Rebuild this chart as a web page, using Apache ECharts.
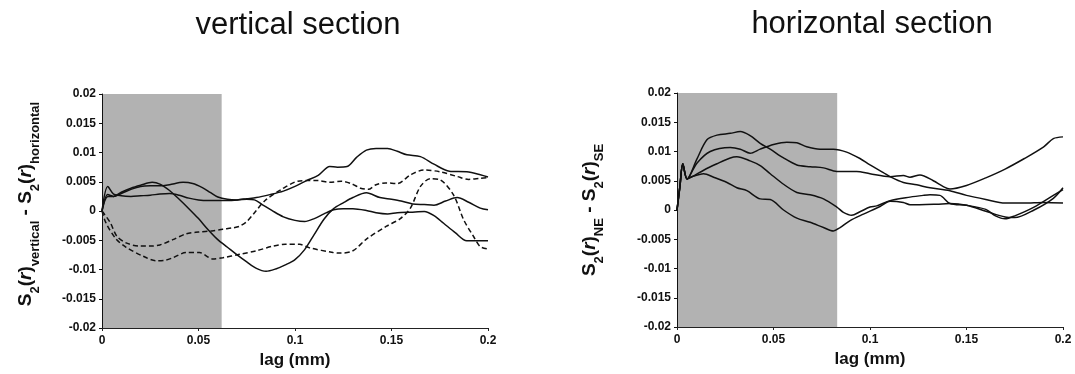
<!DOCTYPE html>
<html>
<head>
<meta charset="utf-8">
<script src="https://cdn.jsdelivr.net/npm/echarts@6/dist/echarts.min.js"></script>
<style>
html,body{margin:0;padding:0;background:#fff;}
#c{width:1075px;height:374px;}
</style>
</head>
<body>
<div id="c"></div>
<script>
// ---- Titles ----
const titleLeft = 'vertical section';
const titleRight = 'horizontal section';
const xName = 'lag (mm)';

// ---- Shaded lag ranges ----
const shadeLeftEnd = 0.062;
const shadeRightEnd = 0.083;

// ---- Left panel (vertical section): [lag, S2 diff] ----
const leftSolidA = [[0,0],[0.003,0.0042],[0.006,0.0029],[0.01,0.0026],[0.015,0.0025],[0.02,0.0026],[0.025,0.0027],[0.03,0.0029],[0.035,0.003],[0.04,0.0027],[0.045,0.0022],[0.05,0.0019],[0.055,0.0018],[0.06,0.0018],[0.065,0.0018],[0.07,0.0019],[0.075,0.0021],[0.08,0.0023],[0.087,0.0028],[0.094,0.0034],[0.1,0.0042],[0.106,0.0052],[0.112,0.0061],[0.118,0.0076],[0.122,0.0075],[0.127,0.0076],[0.132,0.0092],[0.137,0.0104],[0.142,0.0107],[0.148,0.0107],[0.153,0.0102],[0.158,0.0096],[0.165,0.0093],[0.172,0.008],[0.18,0.0068],[0.189,0.0067],[0.196,0.0062],[0.2,0.0058]];
const leftSolidB = [[0,0],[0.003,0.0028],[0.006,0.0025],[0.01,0.003],[0.015,0.0037],[0.02,0.0042],[0.025,0.0043],[0.03,0.0043],[0.035,0.0045],[0.042,0.0049],[0.047,0.0047],[0.052,0.004],[0.056,0.0032],[0.06,0.0024],[0.065,0.002],[0.07,0.0019],[0.075,0.002],[0.079,0.0019],[0.083,0.0011],[0.088,0.0001],[0.094,-0.001],[0.1,-0.0016],[0.105,-0.0018],[0.11,-0.0013],[0.115,-0.0005],[0.12,0.0002],[0.125,0.0004],[0.13,0.0004],[0.137,0.0001],[0.142,-0.0003],[0.148,-0.0005],[0.153,-0.0003],[0.16,-0.0002],[0.167,-0.0001],[0.172,-0.0008],[0.177,-0.0021],[0.183,-0.0037],[0.189,-0.0051],[0.2,-0.0051]];
const leftSolidC = [[0,0],[0.003,0.0025],[0.006,0.0025],[0.01,0.0032],[0.015,0.0039],[0.02,0.0044],[0.026,0.0049],[0.03,0.0046],[0.035,0.0035],[0.04,0.002],[0.045,0.0004],[0.05,-0.0013],[0.055,-0.0032],[0.06,-0.0049],[0.065,-0.0062],[0.07,-0.0075],[0.075,-0.0087],[0.08,-0.0098],[0.085,-0.0103],[0.09,-0.0099],[0.095,-0.0092],[0.1,-0.0083],[0.105,-0.0066],[0.11,-0.004],[0.115,-0.0014],[0.12,0.0004],[0.125,0.0014],[0.13,0.0023],[0.137,0.0031],[0.144,0.0023],[0.15,0.002],[0.155,0.0017],[0.161,0.0012],[0.167,0.0011],[0.172,0.001],[0.178,0.0017],[0.184,0.0023],[0.19,0.0015],[0.196,0.0005],[0.2,0.0002]];
const leftDashA = [[0,0],[0.0043,-0.002],[0.0077,-0.0043],[0.0128,-0.0055],[0.0196,-0.006],[0.025,-0.006],[0.03,-0.0058],[0.0367,-0.0049],[0.0435,-0.0039],[0.05,-0.0036],[0.057,-0.0034],[0.0626,-0.0031],[0.0674,-0.0029],[0.0713,-0.0026],[0.075,-0.0018],[0.079,-0.0003],[0.0845,0.0018],[0.093,0.0037],[0.1015,0.0051],[0.107,0.0052],[0.112,0.0052],[0.118,0.0049],[0.124,0.0051],[0.129,0.0047],[0.134,0.0039],[0.138,0.0037],[0.142,0.0045],[0.147,0.0048],[0.153,0.0047],[0.16,0.0062],[0.1667,0.007],[0.1753,0.0067],[0.184,0.0059],[0.19,0.0054],[0.196,0.0056],[0.2,0.0057]];
const leftDashB = [[0,0],[0.002,-0.002],[0.0073,-0.0048],[0.0125,-0.0062],[0.0211,-0.0077],[0.028,-0.0085],[0.033,-0.0084],[0.0367,-0.008],[0.0436,-0.0071],[0.0505,-0.0071],[0.0574,-0.0082],[0.0626,-0.008],[0.0713,-0.0074],[0.08,-0.0068],[0.0886,-0.006],[0.095,-0.0057],[0.1024,-0.0057],[0.1076,-0.0063],[0.1197,-0.0071],[0.1232,-0.0072],[0.13,-0.0068],[0.137,-0.0048],[0.1474,-0.0026],[0.1546,-0.0013],[0.1598,0.0005],[0.165,0.0042],[0.17,0.0055],[0.1753,0.0053],[0.1822,0.0027],[0.1874,-0.0015],[0.1926,-0.0044],[0.196,-0.0061],[0.2,-0.0065]];

// ---- Right panel (horizontal section) ----
const rightA = [[0,0],[0.0015,0.004],[0.003,0.0079],[0.0052,0.0053],[0.0103,0.0087],[0.0155,0.012],[0.0207,0.0128],[0.0276,0.0131],[0.0328,0.0134],[0.0379,0.0127],[0.0431,0.0114],[0.0483,0.0104],[0.0552,0.0089],[0.0621,0.0077],[0.069,0.0074],[0.0759,0.0072],[0.0828,0.0066],[0.0931,0.0066],[0.1,0.0062],[0.1104,0.0057],[0.1173,0.0059],[0.1207,0.0056],[0.1259,0.006],[0.1328,0.005],[0.138,0.004],[0.1414,0.0036],[0.15,0.0042],[0.16,0.0055],[0.17,0.007],[0.18,0.0088],[0.19,0.0108],[0.195,0.0122],[0.2,0.0125]];
const rightB = [[0,0],[0.0015,0.004],[0.003,0.0079],[0.0052,0.0053],[0.0103,0.008],[0.0172,0.01],[0.0276,0.0107],[0.0328,0.0104],[0.0379,0.0097],[0.0431,0.0104],[0.05,0.0112],[0.0569,0.0116],[0.0621,0.0115],[0.0672,0.0108],[0.0741,0.0104],[0.081,0.0104],[0.0879,0.0099],[0.0948,0.0088],[0.1,0.0077],[0.1069,0.0064],[0.1104,0.0057],[0.1173,0.0047],[0.1242,0.0043],[0.1311,0.0038],[0.1414,0.0033],[0.15,0.0025],[0.16,0.0018],[0.17,0.0012],[0.18,0.0012],[0.19,0.0013],[0.2,0.0012]];
const rightC = [[0,0],[0.0015,0.004],[0.003,0.0079],[0.0052,0.0053],[0.0085,0.0058],[0.0138,0.0068],[0.0207,0.0079],[0.0276,0.0089],[0.031,0.0091],[0.0379,0.0084],[0.0431,0.0076],[0.0483,0.0062],[0.0552,0.0044],[0.0621,0.003],[0.069,0.0026],[0.0759,0.0019],[0.0828,0.0005],[0.0862,-0.0004],[0.0905,-0.0009],[0.0948,-0.0003],[0.1,0.0005],[0.1035,0.0007],[0.1104,0.0016],[0.1207,0.0022],[0.1276,0.0025],[0.1311,0.0026],[0.1362,0.0025],[0.1414,0.0011],[0.15,0.0008],[0.16,0.0001],[0.165,-0.001],[0.17,-0.0015],[0.175,-0.001],[0.185,0.0005],[0.195,0.0025],[0.2,0.0035]];
const rightD = [[0,0],[0.0015,0.004],[0.003,0.0079],[0.0052,0.0053],[0.0069,0.0056],[0.0138,0.0062],[0.019,0.0056],[0.0259,0.0047],[0.031,0.0038],[0.0362,0.0033],[0.0431,0.0019],[0.0483,0.0018],[0.0552,0],[0.0621,-0.0014],[0.069,-0.0021],[0.0759,-0.003],[0.081,-0.0036],[0.0845,-0.003],[0.0897,-0.0018],[0.0966,-0.0007],[0.1052,0.0006],[0.1104,0.0015],[0.1173,0.0013],[0.1207,0.0009],[0.1345,0.001],[0.1414,0.0011],[0.15,0.0008],[0.16,-0.0002],[0.17,-0.0012],[0.175,-0.0013],[0.185,0],[0.195,0.002],[0.2,0.0038]];

const FONT = "'Liberation Sans', Arial, sans-serif";
const INK = '#111';
const SHADE = '#b2b2b2';

function yName(sub1, sub2) {
  return '{m|S}{s|2}{m|(}{i|r}{m|)}{s|' + sub1 + '}{m| - S}{s|2}{m|(}{i|r}{m|)}{s|' + sub2 + '}';
}
const yRich = {
  m: {fontSize: 19, fontWeight: 'bold', fontFamily: FONT, color: INK, lineHeight: 32, verticalAlign: 'middle'},
  i: {fontSize: 19, fontWeight: 'bold', fontStyle: 'italic', fontFamily: FONT, color: INK, lineHeight: 32, verticalAlign: 'middle'},
  s: {fontSize: 13, fontWeight: 'bold', fontFamily: FONT, color: INK, lineHeight: 14, verticalAlign: 'bottom'}
};

function xAxisCfg(gi) {
  return {
    gridIndex: gi, type: 'value', min: 0, max: 0.2, interval: 0.05, z: 10,
    name: xName, nameLocation: 'middle', nameGap: 22,
    nameTextStyle: {fontSize: 17, fontWeight: 'bold', fontFamily: FONT, color: INK},
    axisLine: {show: true, onZero: false, lineStyle: {color: '#222', width: 1}},
    axisTick: {show: true, length: 3, lineStyle: {color: '#222'}},
    axisLabel: {fontSize: 12, fontWeight: 'bold', fontFamily: FONT, color: INK, margin: 7},
    splitLine: {show: false}
  };
}
function yAxisCfg(gi, name, gap, pad) {
  return {
    gridIndex: gi, type: 'value', min: -0.02, max: 0.02, interval: 0.005, z: 10,
    name: name, nameLocation: 'middle', nameGap: gap, nameRotate: 90,
    nameTextStyle: {rich: yRich, padding: pad},
    axisLine: {show: true, onZero: false, lineStyle: {color: '#111', width: 1}},
    axisTick: {show: true, length: 3, lineStyle: {color: '#111'}},
    axisLabel: {fontSize: 12, fontWeight: 'bold', fontFamily: FONT, color: INK, margin: 6},
    splitLine: {show: false}
  };
}
function lineSeries(gi, data, dashed) {
  return {
    type: 'line', xAxisIndex: gi, yAxisIndex: gi, data: data, showSymbol: false, symbol: 'none',
    smooth: 0.3, z: 3, silent: true,
    lineStyle: {color: INK, width: 1.5, type: dashed ? [5, 3] : 'solid'}
  };
}
function shadeSeries(gi, end) {
  return {
    type: 'line', xAxisIndex: gi, yAxisIndex: gi, data: [], z: 1, silent: true,
    markArea: {silent: true, itemStyle: {color: SHADE}, data: [[{coord: [0, -0.02]}, {coord: [end, 0.02]}]]}
  };
}

const chart = echarts.init(document.getElementById('c'), null, {renderer: 'canvas'});
chart.setOption({
  animation: false,
  backgroundColor: '#fff',
  title: [
    {text: titleLeft, left: 298, top: 10, textAlign: 'center', padding: 0,
     textStyle: {fontSize: 31, fontWeight: 'normal', fontFamily: FONT, color: INK}},
    {text: titleRight, left: 872, top: 9, textAlign: 'center', padding: 0,
     textStyle: {fontSize: 31, fontWeight: 'normal', fontFamily: FONT, color: INK}}
  ],
  grid: [
    {left: 102, right: 587, top: 94, bottom: 46, containLabel: false},
    {left: 677, right: 12, top: 93, bottom: 47, containLabel: false}
  ],
  xAxis: [xAxisCfg(0), xAxisCfg(1)],
  yAxis: [
    yAxisCfg(0, yName('vertical', 'horizontal'), 60, [0, 0, 0, 14]),
    yAxisCfg(1, yName('NE', 'SE'), 71, 0)
  ],
  series: [
    shadeSeries(0, shadeLeftEnd),
    lineSeries(0, leftSolidA, false),
    lineSeries(0, leftSolidB, false),
    lineSeries(0, leftSolidC, false),
    lineSeries(0, leftDashA, true),
    lineSeries(0, leftDashB, true),
    shadeSeries(1, shadeRightEnd),
    lineSeries(1, rightA, false),
    lineSeries(1, rightB, false),
    lineSeries(1, rightC, false),
    lineSeries(1, rightD, false)
  ]
});
</script>
</body>
</html>
